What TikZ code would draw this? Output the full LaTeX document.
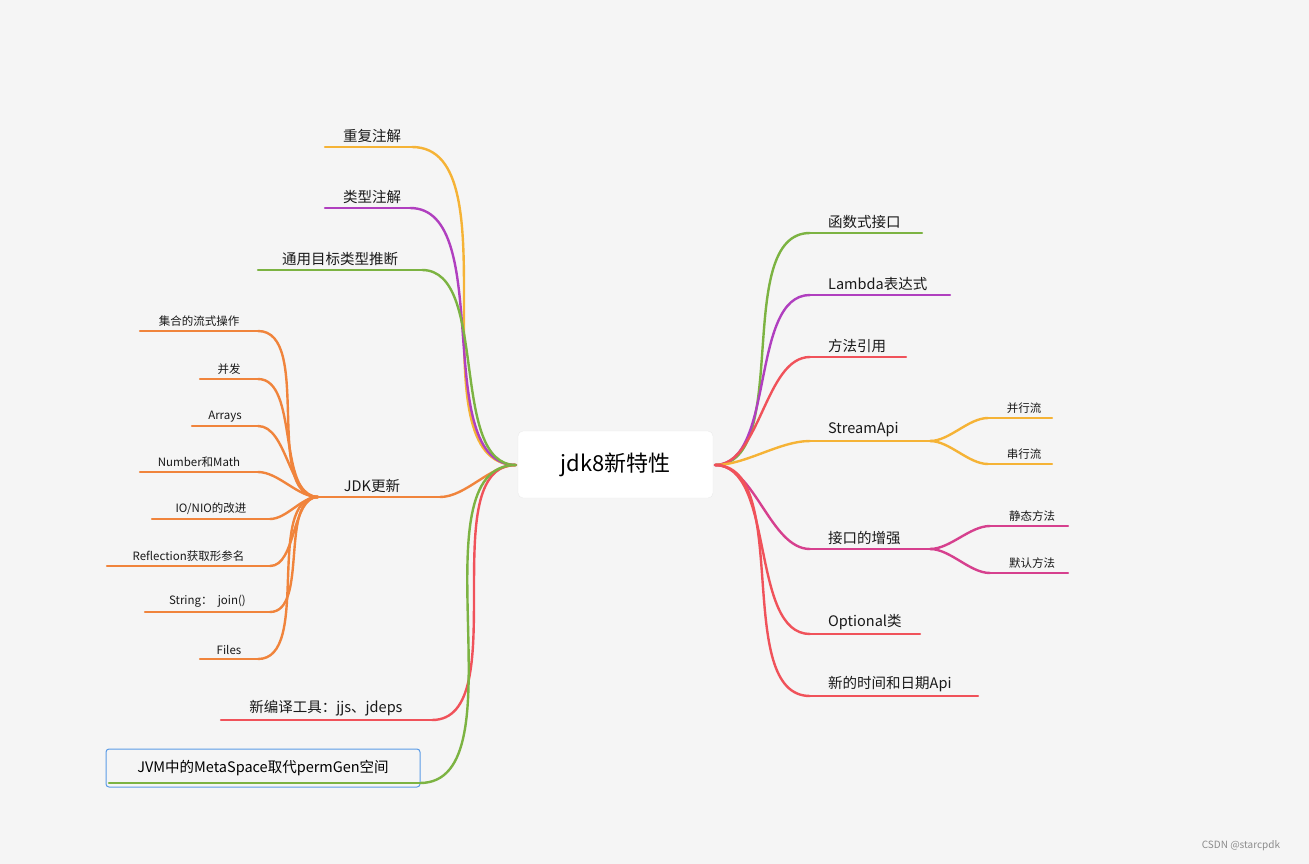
\documentclass[tikz,border=0pt]{standalone}
\usepackage{fontspec}
\setmainfont{Noto Sans CJK SC}
\begin{document}
\begin{tikzpicture}[x=1pt,y=-1pt,
  br/.style={line width=2.4pt,line cap=round},
  lbl/.style={font=\fontsize{14.5}{16}\selectfont,text=black!90,anchor=south,inner sep=2pt},
  sl/.style={font=\fontsize{11.5}{13}\selectfont,text=black!90,anchor=south,inner sep=2pt},
  cv/.style={br,out=180,in=0,looseness=0.8},
  cr/.style={br,out=0,in=180,looseness=0.8}]
\definecolor{cY}{HTML}{F5B336}\definecolor{cP}{HTML}{B03FBF}\definecolor{cG}{HTML}{7CB342}
\definecolor{cO}{HTML}{F0843C}\definecolor{cR}{HTML}{F0525A}\definecolor{cK}{HTML}{D6408E}
\definecolor{cB}{HTML}{5B9BE6}
\fill[black!4] (0,0) rectangle (1309,864);
\useasboundingbox (0,0) rectangle (1309,864);
\node[draw=black!8,fill=white,rounded corners=5pt,minimum width=195pt,minimum height=67pt,font=\fontsize{22}{26}\selectfont] (c) at (615.5,464.5) {jdk8新特性};
\coordinate (cl) at (516,465); \coordinate (crr) at (715,465);
% left
\draw[br,cY] (325,147) -- (412,147) coordinate (a1); \node[lbl] (t1) at (372,145) {重复注解};
\draw[br,cP] (325,208) -- (410,208) coordinate (a2); \node[lbl] (t2) at (372,206) {类型注解};
\draw[br,cG] (258,270) -- (422,270) coordinate (a3); \node[lbl] (t3) at (340,268) {通用目标类型推断};
\draw[br,cO] (318,497) coordinate (j0) -- (440,497) coordinate (a4); \node[lbl] (t4) at (372,495) {JDK更新};
\draw[br,cR] (221,720) -- (432,720) coordinate (a5); \node[lbl] (t5) at (326,718) {新编译工具：jjs、jdeps};
\node[draw=cB,line width=1pt,rounded corners=3pt,minimum width=314pt,minimum height=38pt,font=\fontsize{14.5}{16}\selectfont] (t6) at (263,768) {JVM中的MetaSpace取代permGen空间};
\draw[br,cG] (109,783) -- (420,783) coordinate (a6);
\draw[cv,cY] (cl) to (a1); \draw[cv,cP] (cl) to (a2); \draw[cv,cG] (cl) to (a3);
\draw[cv,cO] (cl) to (a4); \draw[cv,cR] (cl) to (a5); \draw[cv,cG] (cl) to (a6);
% JDK children
\foreach \n/\x/\xr/\y/\t in {1/140/258/331/{集合的流式操作},2/200/258/379/{并发},3/192/258/426/{Arrays},4/140/258/472/{Number和Math},5/152/270/519/{IO/NIO的改进},6/107/270/566/{Reflection获取形参名},7/145/270/612/{String：\ \ join()},8/200/258/659/{Files}}{
  \draw[br,cO] (\x,\y) -- (\xr,\y) coordinate (k\n);
  \node[sl] (kt\n) at ({(\x+\xr)/2},\y-2) {\t};
  \draw[cv,cO] (j0) to (k\n);
}
% right
\foreach \n/\xr/\y/\c/\t in {1/922/233/cG/函数式接口,2/950/295/cP/Lambda表达式,3/906/357/cR/方法引用,4/930/441/cY/StreamApi,5/930/549/cK/接口的增强,6/920/634/cR/Optional类,7/978/696/cR/新的时间和日期Api}{
  \draw[br,\c] (810,\y) coordinate (r\n) -- (\xr,\y);
  \node[lbl,anchor=south west] (rt\n) at (826,\y-2) {\t};
  \draw[cr,\c] (crr) to (r\n);
}
\coordinate (s0) at (930,441); \coordinate (i0) at (930,549);
\draw[br,cY] (988,418) coordinate (s1) -- (1052,418); \node[sl] (st1) at (1024,416) {并行流};
\draw[br,cY] (988,464) coordinate (s2) -- (1052,464); \node[sl] (st2) at (1024,462) {串行流};
\draw[cr,cY] (s0) to (s1); \draw[cr,cY] (s0) to (s2);
\draw[br,cK] (990,526) coordinate (i1) -- (1068,526); \node[sl] (it1) at (1032,524) {静态方法};
\draw[br,cK] (990,573) coordinate (i2) -- (1068,573); \node[sl] (it2) at (1032,571) {默认方法};
\draw[cr,cK] (i0) to (i1); \draw[cr,cK] (i0) to (i2);
\node[font=\fontsize{10}{12}\selectfont,text=black!45] (wm) at (1241,846) {CSDN @starcpdk};
\end{tikzpicture}
\end{document}
